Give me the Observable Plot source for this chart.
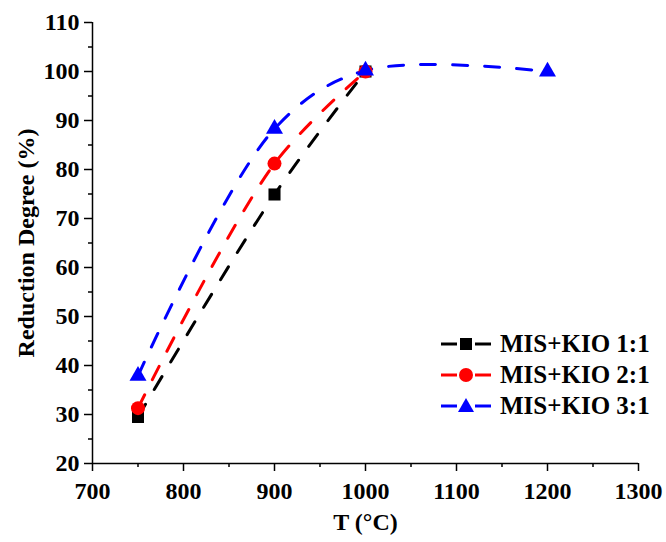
<!DOCTYPE html>
<html><head><meta charset="utf-8">
<script src="https://cdn.jsdelivr.net/npm/d3@7"></script>
<script src="https://cdn.jsdelivr.net/npm/@observablehq/plot@0.6"></script>
<style>
body{margin:0;background:#fff;}
#wrap{position:relative;width:666px;height:542px;overflow:hidden;}
.lg{position:absolute;left:438px;height:30px;display:flex;align-items:center;font-family:"Liberation Serif","Times New Roman",serif;font-weight:bold;font-size:25px;color:#000;white-space:nowrap;}
.lg svg{margin-right:6px;}
</style></head><body><div id="wrap"></div><script>
const seriesNames = ["MIS+KIO 1:1", "MIS+KIO 2:1", "MIS+KIO 3:1"];
const seriesColors = ["#000000", "#ff0000", "#0000ff"];
const seriesSymbols = ["square", "circle", "triangle"];
const temps1 = [750, 900, 1000];
const values1 = [29.5, 74.9, 100];
const temps2 = [750, 900, 1000];
const values2 = [31.3, 81.2, 100];
const temps3 = [750, 900, 1000, 1200];
const values3 = [37.9, 88.3, 100.2, 100];
const xTicks = [700, 800, 900, 1000, 1100, 1200, 1300];
const xMinor = [750, 850, 950, 1050, 1150, 1250];
const yTicks = [20, 30, 40, 50, 60, 70, 80, 90, 100, 110];
const yMinor = [25, 35, 45, 55, 65, 75, 85, 95, 105];

const table = [];
[[temps1, values1], [temps2, values2], [temps3, values3]].forEach(([ts, vs], i) => {
  ts.forEach((t, j) => table.push({series: seriesNames[i], t, v: vs[j]}));
});

const font = {fontFamily: "'Liberation Serif','Times New Roman',serif", fontWeight: "bold", fontSize: 24};

const chart = Plot.plot({
  width: 666, height: 542,
  marginLeft: 92, marginRight: 28, marginTop: 22, marginBottom: 79,
  style: {fontFamily: font.fontFamily, fontWeight: "bold", fontSize: "24px", color: "#000", background: "#fff"},
  x: {domain: [700, 1300]},
  y: {domain: [20, 110]},
  color: {domain: seriesNames, range: seriesColors},
  symbol: {domain: seriesNames, range: seriesSymbols},
  marks: [
    Plot.axisX({ticks: xMinor, tickSize: 4, tickFormat: () => "", label: null, strokeWidth: 1.5}),
    Plot.axisY({ticks: yMinor, tickSize: 4, tickFormat: () => "", label: null, strokeWidth: 1.5}),
    Plot.axisX({ticks: xTicks, tickSize: 8, tickPadding: 10, tickFormat: "d", strokeWidth: 1.5, ...font,
      label: "T (°C)", labelAnchor: "center", labelOffset: 66, labelArrow: "none"}),
    Plot.axisY({ticks: yTicks, tickSize: 8, tickPadding: 5, tickFormat: "d", strokeWidth: 1.5, ...font,
      label: "Reduction Degree (%)", labelAnchor: "center", labelOffset: 76, labelArrow: "none"}),
    Plot.ruleX([700], {strokeWidth: 1.5}),
    Plot.ruleY([20], {strokeWidth: 1.5}),
    Plot.line(table, {x: "t", y: "v", z: "series", stroke: "series", curve: "catmull-rom", strokeWidth: 3, strokeDasharray: "15,17"}),
    Plot.dot(table.filter(d => d.series === seriesNames[0]), {x: "t", y: "v", fill: "series", symbol: "series", r: 6.8}),
    Plot.dot(table.filter(d => d.series === seriesNames[1]), {x: "t", y: "v", fill: "series", symbol: "series", r: 7}),
    Plot.dot(table.filter(d => d.series === seriesNames[2]), {x: "t", y: "v", fill: "series", symbol: "series", r: 6.3})
  ]
});
const wrap = document.getElementById("wrap");
wrap.appendChild(chart);

const rowTops = [329, 360, 391];
seriesNames.forEach((name, i) => {
  const div = document.createElement("div");
  div.className = "lg";
  div.style.top = rowTops[i] + "px";
  const c = seriesColors[i];
  let sym;
  if (i === 0) sym = `<rect x="22" y="9" width="12" height="12" fill="${c}"/>`;
  else if (i === 1) sym = `<circle cx="28" cy="15" r="7" fill="${c}"/>`;
  else sym = `<path d="M28,7 L36,21 L20,21 Z" fill="${c}"/>`;
  div.innerHTML = `<svg width="56" height="30"><line x1="3" y1="15" x2="19" y2="15" stroke="${c}" stroke-width="3"/><line x1="37" y1="15" x2="53" y2="15" stroke="${c}" stroke-width="3"/>${sym}</svg><span>${name}</span>`;
  wrap.appendChild(div);
});
</script></body></html>
